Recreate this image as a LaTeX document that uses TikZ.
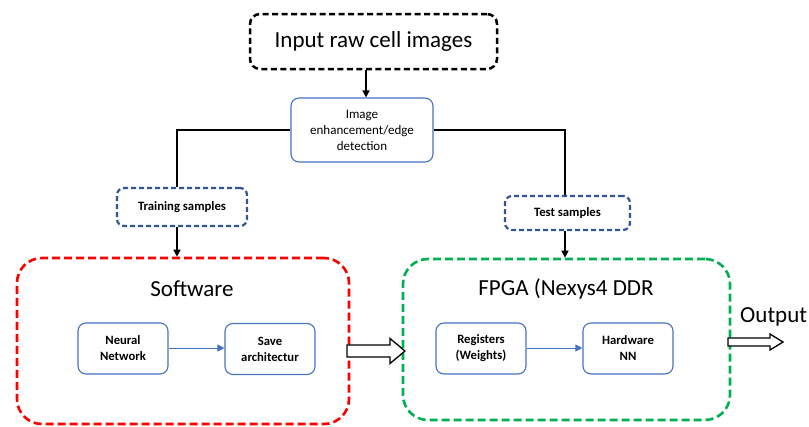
\documentclass[tikz,border=0pt]{standalone}
\usepackage{fontspec}
\setmainfont{Carlito}
\usetikzlibrary{arrows.meta}
\definecolor{dblue}{HTML}{2F5597}
\definecolor{mblue}{HTML}{4472C4}
\definecolor{fred}{HTML}{FF0000}
\definecolor{fgreen}{HTML}{00B050}
\begin{document}
\begin{tikzpicture}[x=1pt,y=-1pt,
  bigfont/.style={font=\fontsize{23}{27}\selectfont},
  dashbox/.style={draw, dash pattern=on 6pt off 3.5pt, line width=2.5pt, inner sep=0pt},
  groupbox/.style={draw, dash pattern=on 8pt off 4pt, line width=2.6pt, rounded corners=25pt, inner sep=0pt},
  samplebox/.style={draw=dblue, dash pattern=on 5pt off 3pt, line width=2.2pt, rounded corners=7pt, inner sep=0pt, font=\fontsize{12.7}{16}\selectfont\bfseries},
  procbox/.style={draw=mblue, line width=1.1pt, rounded corners=8pt, inner sep=0pt, align=center, font=\fontsize{12.7}{16}\selectfont\bfseries},
  flow/.style={line width=1.5pt, -{Triangle[length=7pt,width=7pt]}},
  blueflow/.style={draw=mblue, line width=1pt, -{Triangle[length=7pt,width=7pt]}, color=mblue},
  line/.style={line width=1.5pt},
  hollowarrow/.style={draw, line width=1.3pt, fill=white, line join=miter}
]
\useasboundingbox (0,0) rectangle (809,426);

\node[dashbox, rounded corners=10pt, minimum width=247pt, minimum height=55pt, bigfont] (input) at (373.5,41.5) {Input raw cell images};
\node[procbox, minimum width=142pt, minimum height=64pt, font=\fontsize{13}{16}\selectfont] (img) at (362,130) {Image\\enhancement/edge\\detection};

\node[samplebox, minimum width=130pt, minimum height=38pt] (train) at (182,207) {Training samples};
\node[samplebox, minimum width=125pt, minimum height=34pt] (test) at (567.5,213) {Test samples};

\node[groupbox, draw=fred, minimum width=332pt, minimum height=166pt] (sw) at (183,341) {};
\node[groupbox, draw=fgreen, minimum width=327pt, minimum height=161pt] (fpga) at (566.5,339.5) {};
\node[bigfont] (swt) at (192,289) {Software};
\node[bigfont] (fpgat) at (566,289) {FPGA (Nexys4 DDR};

\node[procbox, minimum width=90pt, minimum height=51pt] (nn) at (123,348.5) {Neural\\Network};
\node[procbox, minimum width=90pt, minimum height=51pt] (save) at (270,349) {Save\\architectur};
\node[procbox, minimum width=90pt, minimum height=51pt] (reg) at (481,348.5) {Registers\\(Weights)};
\node[procbox, minimum width=90pt, minimum height=51pt] (hw) at (628,348.5) {Hardware\\NN};

\node[bigfont, anchor=west, inner sep=0pt] (out) at (740,317) {Output};

\coordinate (ta) at (366,0);
\coordinate (tl) at (177,130);
\coordinate (tr) at (565,130);

\draw[flow] (ta |- input.south) -- (ta |- img.north);
\draw[line] (img.west) -- (tl) -- (tl |- train.north);
\draw[line] (img.east) -- (tr) -- (tr |- test.north);
\draw[flow] (tl |- train.south) -- (tl |- sw.north);
\draw[flow] (tr |- test.south) -- (tr |- fpga.north);
\draw[blueflow] (nn.east |- 0,348) -- (save.west |- 0,348);
\draw[blueflow] (reg.east |- 0,348) -- (hw.west |- 0,348);

\coordinate (h1) at (347,351);
\draw[hollowarrow] (h1) ++(0,-6) -- ++(43,0) -- ++(0,-6.5) -- ++(15,12.5) -- ++(-15,12.5) -- ++(0,-6.5) -- ++(-43,0) -- cycle;
\coordinate (h2) at (728,342);
\draw[hollowarrow] (h2) ++(0,-4) -- ++(42,0) -- ++(0,-4) -- ++(13,8) -- ++(-13,8) -- ++(0,-4) -- ++(-42,0) -- cycle;
\end{tikzpicture}
\end{document}
